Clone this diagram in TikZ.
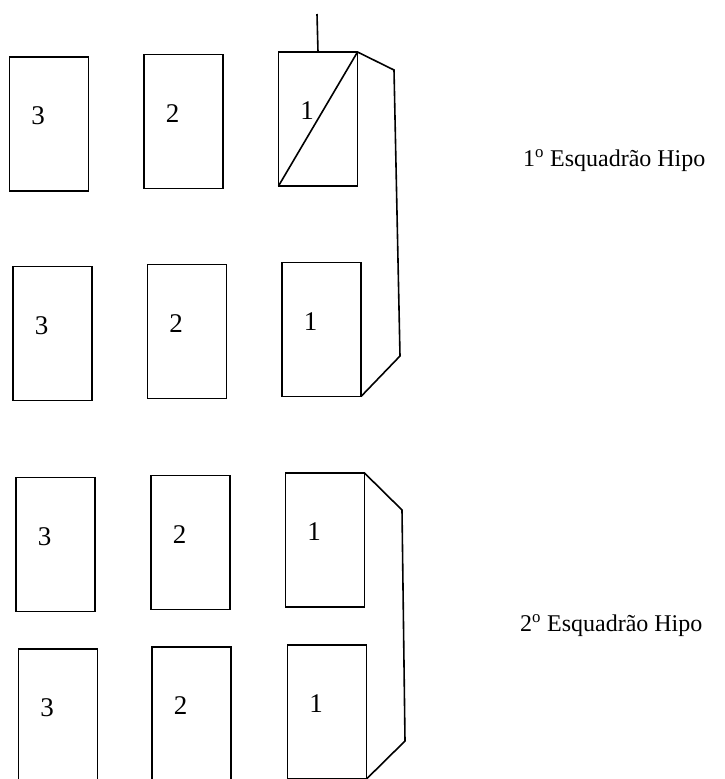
\documentclass[tikz,border=0pt]{standalone}
\usepackage{fontspec}
\setmainfont{Liberation Serif}
\usepackage{tikz}
\usetikzlibrary{positioning, calc}

\begin{document}
\begin{tikzpicture}[
    x=1pt, y=-1pt,
    every node/.style={inner sep=0pt},
    box/.style={rectangle, draw=black, line width=1.6pt, minimum width=79pt,
                minimum height=134pt, outer sep=0pt,
                label={[xshift=-11pt, yshift=8pt, font=\fontsize{27}{30}\selectfont]center:#1}},
    link/.style={draw=black, line width=1.6pt, line join=miter},
    squad/.style={anchor=west, font=\fontsize{24}{28}\selectfont}
]
\useasboundingbox (0,0) rectangle (724,779);

% --- 1o Esquadrao -------------------------------------------------------
\node[box=3] (r13) at (49,124)      {};
\node[box=2] (r12) at (183.5,121.5) {};
\node[box=1] (r11) at (318,119)     {};
\node[box=3] (r23) at (52.5,333.5)  {};
\node[box=2] (r22) at (187,331.5)   {};
\node[box=1] (r21) at (321.5,329.5) {};

% --- 2o Esquadrao -------------------------------------------------------
\node[box=3] (r33) at (55.5,544.5)  {};
\node[box=2] (r32) at (190.5,542.5) {};
\node[box=1] (r31) at (325,540)     {};
\node[box=3] (r43) at (58,716)      {};
\node[box=2] (r42) at (191.5,714)   {};
\node[box=1] (r41) at (327,712)     {};

% --- Labels -------------------------------------------------------------
\node[squad] (sq1) at (523,161) {1\textsuperscript{o} Esquadrão Hipo};
\node[squad] (sq2) at (520,626) {2\textsuperscript{o} Esquadrão Hipo};

% --- Mast and brackets --------------------------------------------------
\coordinate (mast) at (317,14);
\draw[link] (r11.north) -- (mast);
\draw[link] (r11.south west) -- (r11.north east);

\coordinate (b1a) at (394,70);
\coordinate (b1b) at (400,356);
\draw[link] (r11.north east) -- (b1a) -- (b1b) -- (r21.south east);

\coordinate (b2a) at (402,510);
\coordinate (b2b) at (405,741);
\draw[link] (r31.north east) -- (b2a) -- (b2b) -- (r41.south east);

\end{tikzpicture}
\end{document}
